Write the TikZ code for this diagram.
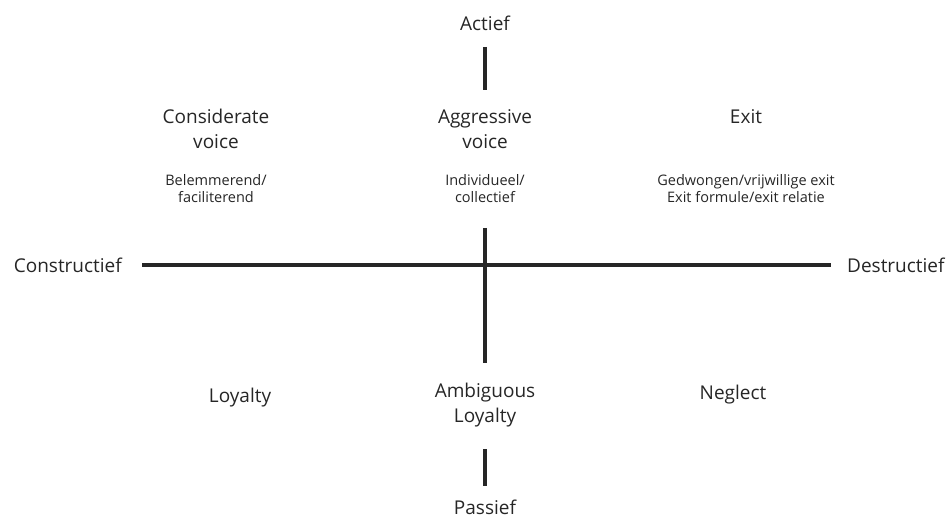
\documentclass[tikz,border=0pt]{standalone}
\usepackage{fontspec}
\setmainfont{Open Sans}
\usetikzlibrary{positioning}

\tikzset{
  axis/.style={line width=4pt, black!85},
  label/.style={align=center, inner sep=2pt, text=black!85,
    font=\fontsize{19}{25}\selectfont},
  sublabel/.style={align=center, inner sep=2pt, text=black!85,
    font=\fontsize{14.5}{17}\selectfont}
}

\begin{document}
\begin{tikzpicture}[x=1pt, y=-1pt, font=\small]
    \useasboundingbox (0,0) rectangle (949,518);

    % end points of the axes
    \path (485,47) coordinate (top-a) (485,90) coordinate (top-b);
    \path (485,228) coordinate (mid-a) (485,363) coordinate (mid-b);
    \path (485,449) coordinate (bot-a) (485,486) coordinate (bot-b);
    \path (142,265) coordinate (left-end) (831,265) coordinate (right-end);

    \node[label] (actief) at (485,23) {Actief};
    \node[label] (passief) at (485,507) {Passief};
    \node[label, left = 18pt of left-end] (constructief) {Constructief};
    \node[label, right = 14pt of right-end] (destructief) {Destructief};

    \draw[axis] (top-a) -- (top-b);
    \draw[axis] (mid-a) -- (mid-b);
    \draw[axis] (bot-a) -- (bot-b);
    \draw[axis] (left-end) -- (right-end);

    % upper row
    \node[label] (considerate) at (216,129) {Considerate\\voice};
    \node[label] (aggressive) at (485,129) {Aggressive\\voice};
    \node[label] (exit) at (746,117) {Exit};

    \node[sublabel] (belemmerend) at (216,189) {Belemmerend/\\faciliterend};
    \node[sublabel] (individueel) at (485,189) {Individueel/\\collectief};
    \node[sublabel] (gedwongen) at (746,189) {Gedwongen/vrijwillige exit\\Exit formule/exit relatie};

    % lower row
    \node[label] (loyalty) at (240,398) {Loyalty};
    \node[label] (ambiguous) at (485,405) {Ambiguous\\Loyalty};
    \node[label] (neglect) at (733,395) {Neglect};
\end{tikzpicture}
\end{document}
